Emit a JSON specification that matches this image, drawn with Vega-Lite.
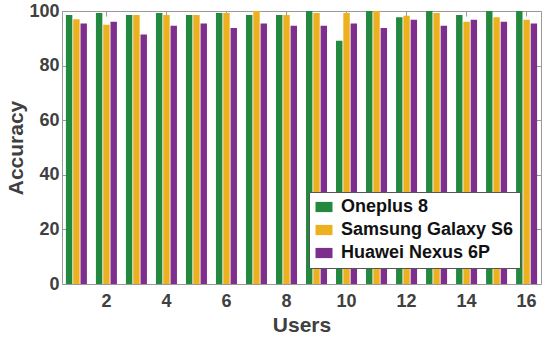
{
  "$schema": "https://vega.github.io/schema/vega-lite/v6.json",
  "width": 479,
  "height": 273,
  "autosize": {"type": "none"},
  "padding": {"left": 62, "top": 11, "right": 9, "bottom": 56},
  "background": "white",
  "config": {
    "font": "Liberation Sans",
    "view": {"stroke": null},
    "axis": {
      "domainColor": "#9a9a9a",
      "tickColor": "#9a9a9a",
      "tickSize": -5,
      "grid": false,
      "labelFont": "Liberation Sans",
      "labelFontWeight": "bold",
      "labelFontSize": 18,
      "labelColor": "#404040",
      "titleFont": "Liberation Sans",
      "titleFontWeight": "bold",
      "titleFontSize": 21,
      "titleColor": "#404040"
    }
  },
  "data": {
    "values": [
      {"user": 1, "device": "Oneplus 8", "accuracy": 98.5},
      {"user": 1, "device": "Samsung Galaxy S6", "accuracy": 97.0},
      {"user": 1, "device": "Huawei Nexus 6P", "accuracy": 95.4},
      {"user": 2, "device": "Oneplus 8", "accuracy": 99.3},
      {"user": 2, "device": "Samsung Galaxy S6", "accuracy": 95.0},
      {"user": 2, "device": "Huawei Nexus 6P", "accuracy": 96.1},
      {"user": 3, "device": "Oneplus 8", "accuracy": 98.5},
      {"user": 3, "device": "Samsung Galaxy S6", "accuracy": 98.5},
      {"user": 3, "device": "Huawei Nexus 6P", "accuracy": 91.4},
      {"user": 4, "device": "Oneplus 8", "accuracy": 99.3},
      {"user": 4, "device": "Samsung Galaxy S6", "accuracy": 98.5},
      {"user": 4, "device": "Huawei Nexus 6P", "accuracy": 94.6},
      {"user": 5, "device": "Oneplus 8", "accuracy": 98.5},
      {"user": 5, "device": "Samsung Galaxy S6", "accuracy": 98.5},
      {"user": 5, "device": "Huawei Nexus 6P", "accuracy": 95.4},
      {"user": 6, "device": "Oneplus 8", "accuracy": 99.3},
      {"user": 6, "device": "Samsung Galaxy S6", "accuracy": 99.3},
      {"user": 6, "device": "Huawei Nexus 6P", "accuracy": 93.8},
      {"user": 7, "device": "Oneplus 8", "accuracy": 98.5},
      {"user": 7, "device": "Samsung Galaxy S6", "accuracy": 100},
      {"user": 7, "device": "Huawei Nexus 6P", "accuracy": 95.4},
      {"user": 8, "device": "Oneplus 8", "accuracy": 98.5},
      {"user": 8, "device": "Samsung Galaxy S6", "accuracy": 98.5},
      {"user": 8, "device": "Huawei Nexus 6P", "accuracy": 94.6},
      {"user": 9, "device": "Oneplus 8", "accuracy": 100},
      {"user": 9, "device": "Samsung Galaxy S6", "accuracy": 99.3},
      {"user": 9, "device": "Huawei Nexus 6P", "accuracy": 94.6},
      {"user": 10, "device": "Oneplus 8", "accuracy": 89.1},
      {"user": 10, "device": "Samsung Galaxy S6", "accuracy": 99.3},
      {"user": 10, "device": "Huawei Nexus 6P", "accuracy": 95.4},
      {"user": 11, "device": "Oneplus 8", "accuracy": 100},
      {"user": 11, "device": "Samsung Galaxy S6", "accuracy": 100},
      {"user": 11, "device": "Huawei Nexus 6P", "accuracy": 93.8},
      {"user": 12, "device": "Oneplus 8", "accuracy": 97.7},
      {"user": 12, "device": "Samsung Galaxy S6", "accuracy": 98.3},
      {"user": 12, "device": "Huawei Nexus 6P", "accuracy": 96.8},
      {"user": 13, "device": "Oneplus 8", "accuracy": 100},
      {"user": 13, "device": "Samsung Galaxy S6", "accuracy": 99.3},
      {"user": 13, "device": "Huawei Nexus 6P", "accuracy": 94.6},
      {"user": 14, "device": "Oneplus 8", "accuracy": 98.5},
      {"user": 14, "device": "Samsung Galaxy S6", "accuracy": 96.1},
      {"user": 14, "device": "Huawei Nexus 6P", "accuracy": 96.8},
      {"user": 15, "device": "Oneplus 8", "accuracy": 100},
      {"user": 15, "device": "Samsung Galaxy S6", "accuracy": 97.7},
      {"user": 15, "device": "Huawei Nexus 6P", "accuracy": 96.1},
      {"user": 16, "device": "Oneplus 8", "accuracy": 100},
      {"user": 16, "device": "Samsung Galaxy S6", "accuracy": 96.8},
      {"user": 16, "device": "Huawei Nexus 6P", "accuracy": 95.4}
    ]
  },
  "layer": [
    {
      "mark": {"type": "bar"},
      "encoding": {
        "x": {
          "field": "user", "type": "ordinal",
          "scale": {"paddingInner": 0.3, "paddingOuter": 0.13},
          "axis": {"title": "Users", "values": [2, 4, 6, 8, 10, 12, 14, 16], "labelAngle": 0, "labelPadding": 13, "titlePadding": 4}
        },
        "xOffset": {
          "field": "device", "type": "nominal",
          "sort": ["Oneplus 8", "Samsung Galaxy S6", "Huawei Nexus 6P"],
          "scale": {"paddingInner": 0.12, "paddingOuter": 0}
        },
        "y": {
          "field": "accuracy", "type": "quantitative",
          "scale": {"domain": [0, 100], "nice": false},
          "axis": {"title": "Accuracy", "values": [0, 20, 40, 60, 80, 100], "labelPadding": 8, "titlePadding": 2}
        },
        "color": {
          "field": "device", "type": "nominal",
          "sort": ["Oneplus 8", "Samsung Galaxy S6", "Huawei Nexus 6P"],
          "scale": {"domain": ["Oneplus 8", "Samsung Galaxy S6", "Huawei Nexus 6P"], "range": ["#23893f", "#edb120", "#7e2f8e"]},
          "legend": {
            "title": null,
            "orient": "none",
            "legendX": 247,
            "legendY": 181,
            "direction": "vertical",
            "symbolType": "M-1,-0.6H1V0.6H-1Z",
            "symbolSize": 289,
            "symbolStrokeWidth": 0,
            "symbolOpacity": 1,
            "labelFont": "Liberation Sans",
            "labelFontWeight": "bold",
            "labelFontSize": 18,
            "labelColor": "#111111",
            "labelOffset": 8,
            "rowPadding": 5,
            "padding": 6,
            "strokeColor": "#555555",
            "fillColor": "white",
            "labelLimit": 300
          }
        }
      }
    },
    {
      "mark": {"type": "bar", "opacity": 0},
      "encoding": {
        "x": {
          "field": "user", "type": "ordinal",
          "axis": {"orient": "top", "title": null, "labels": false, "values": [2, 4, 6, 8, 10, 12, 14, 16]}
        },
        "y": {
          "field": "accuracy", "type": "quantitative",
          "axis": {"orient": "right", "title": null, "labels": false, "values": [0, 20, 40, 60, 80, 100]}
        }
      }
    }
  ],
  "resolve": {"axis": {"x": "independent", "y": "independent"}}
}
